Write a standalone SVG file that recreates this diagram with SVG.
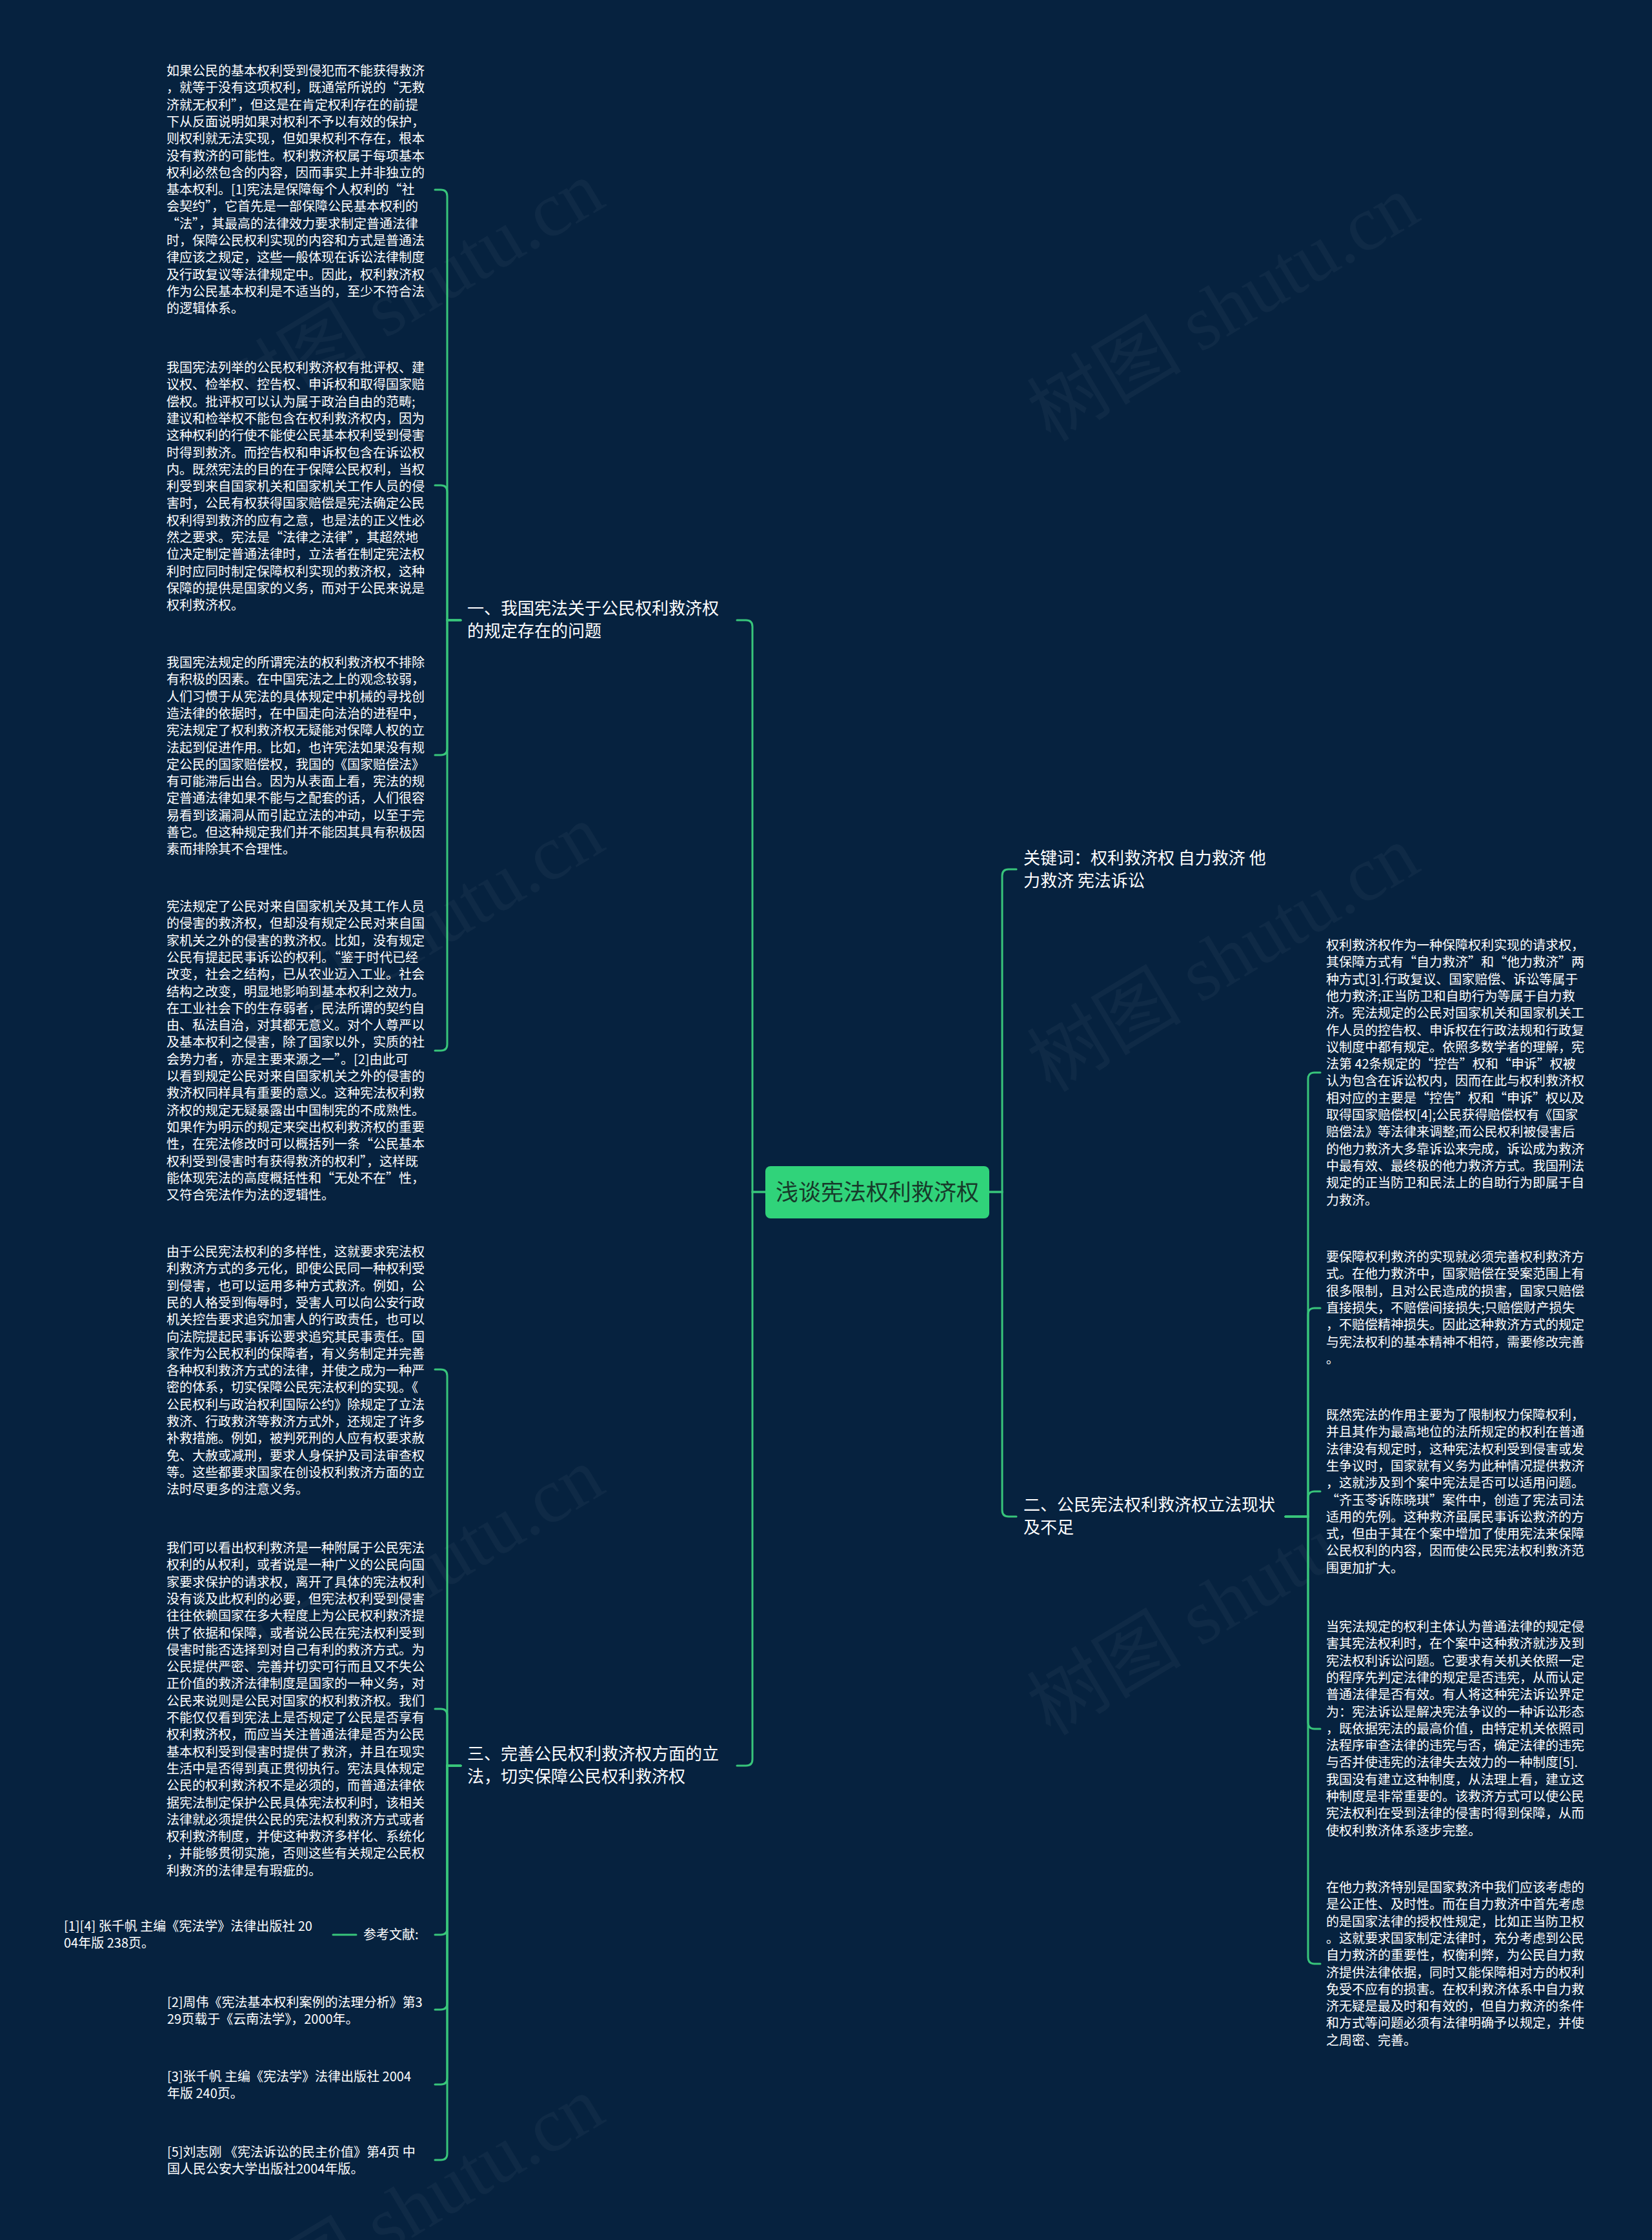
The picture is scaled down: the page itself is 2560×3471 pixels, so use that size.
<svg xmlns="http://www.w3.org/2000/svg" width="2560" height="3471" viewBox="0 0 2560 3471">
<style>
.bg{fill:#06223f}
.wm{font-family:"Liberation Serif","Noto Sans CJK SC",serif;font-size:120px;fill:#ffffff;fill-opacity:0.04}
.c{fill:none;stroke:#38c57b;stroke-width:3;stroke-linecap:round}
.t{font-family:"Noto Sans CJK SC","Noto Sans",sans-serif;font-size:20px;fill:#ffffff}
.lb{font-family:"Noto Sans CJK SC","Noto Sans",sans-serif;font-size:26px;fill:#ffffff}
.root{fill:#30d37a}
.rt{font-family:"Noto Sans CJK SC","Noto Sans",sans-serif;font-size:35px;fill:#173a2a}
</style>
<rect class="bg" x="0" y="0" width="2560" height="3471"/>
<g id="watermarks">
<text class="wm" transform="translate(365,664) rotate(-31)">树图 shutu.cn</text>
<text class="wm" transform="translate(1628,686) rotate(-31)">树图 shutu.cn</text>
<text class="wm" transform="translate(365,1661) rotate(-31)">树图 shutu.cn</text>
<text class="wm" transform="translate(1628,1694) rotate(-31)">树图 shutu.cn</text>
<text class="wm" transform="translate(365,2657) rotate(-31)">树图 shutu.cn</text>
<text class="wm" transform="translate(1628,2691) rotate(-31)">树图 shutu.cn</text>
<text class="wm" transform="translate(365,3632) rotate(-31)">树图 shutu.cn</text>
</g>
<g id="connectors">
<path class="c" d="M1186 1847 H1166 V971 Q1166 961 1156 961 H1142"/>
<path class="c" d="M1186 1847 H1166 V2726 Q1166 2736 1156 2736 H1142"/>
<path class="c" d="M1533 1847 H1553 V1357 Q1553 1347 1563 1347 H1575"/>
<path class="c" d="M1533 1847 H1553 V2340 Q1553 2350 1563 2350 H1575"/>
<path class="c" d="M714 961 H693 V304 Q693 294 683 294 H674"/>
<path class="c" d="M714 961 H693 V762 Q693 752 683 752 H674"/>
<path class="c" d="M714 961 H693 V1160 Q693 1170 683 1170 H674"/>
<path class="c" d="M714 961 H693 V1618 Q693 1628 683 1628 H674"/>
<path class="c" d="M714 2736 H693 V2132 Q693 2122 683 2122 H674"/>
<path class="c" d="M714 2736 H693 V2658 Q693 2648 683 2648 H674"/>
<path class="c" d="M714 2736 H693 V2988 Q693 2998 683 2998 H674"/>
<path class="c" d="M714 2736 H693 V3104 Q693 3114 683 3114 H674"/>
<path class="c" d="M714 2736 H693 V3220 Q693 3230 683 3230 H674"/>
<path class="c" d="M714 2736 H693 V3337 Q693 3347 683 3347 H674"/>
<path class="c" d="M552 2998 H516"/>
<path class="c" d="M1992 2350 H2027 V1672 Q2027 1662 2037 1662 H2046"/>
<path class="c" d="M1992 2350 H2027 V2037 Q2027 2027 2037 2027 H2046"/>
<path class="c" d="M1992 2350 H2027 V2321 Q2027 2311 2037 2311 H2046"/>
<path class="c" d="M1992 2350 H2027 V2669 Q2027 2679 2037 2679 H2046"/>
<path class="c" d="M1992 2350 H2027 V3033 Q2027 3043 2037 3043 H2046"/>
</g>
<g id="root">
<rect class="root" x="1186" y="1807" width="347" height="81" rx="8"/>
<text class="rt" x="1359.5" y="1860" text-anchor="middle">浅谈宪法权利救济权</text>
</g>
<g id="branch1">
<text class="lb" x="724" y="952"><tspan x="724">一、我国宪法关于公民权利救济权</tspan><tspan x="724" dy="35">的规定存在的问题</tspan></text>
</g>
<g id="branch3">
<text class="lb" x="724" y="2727"><tspan x="724">三、完善公民权利救济权方面的立</tspan><tspan x="724" dy="35">法，切实保障公民权利救济权</tspan></text>
</g>
<g id="keywords">
<text class="lb" x="1586" y="1339"><tspan x="1586">关键词：权利救济权 自力救济 他</tspan><tspan x="1586" dy="35">力救济 宪法诉讼</tspan></text>
</g>
<g id="branch2">
<text class="lb" x="1586" y="2341"><tspan x="1586">二、公民宪法权利救济权立法现状</tspan><tspan x="1586" dy="35">及不足</tspan></text>
</g>
<g id="note1">
<text class="t" x="258" y="117"><tspan x="258">如果公民的基本权利受到侵犯而不能获得救济</tspan><tspan x="258" dy="26.3">，就等于没有这项权利，既通常所说的“无救</tspan><tspan x="258" dy="26.3">济就无权利”，但这是在肯定权利存在的前提</tspan><tspan x="258" dy="26.3">下从反面说明如果对权利不予以有效的保护，</tspan><tspan x="258" dy="26.3">则权利就无法实现，但如果权利不存在，根本</tspan><tspan x="258" dy="26.3">没有救济的可能性。权利救济权属于每项基本</tspan><tspan x="258" dy="26.3">权利必然包含的内容，因而事实上并非独立的</tspan><tspan x="258" dy="26.3">基本权利。[1]宪法是保障每个人权利的“社</tspan><tspan x="258" dy="26.3">会契约”，它首先是一部保障公民基本权利的</tspan><tspan x="258" dy="26.3">“法”，其最高的法律效力要求制定普通法律</tspan><tspan x="258" dy="26.3">时，保障公民权利实现的内容和方式是普通法</tspan><tspan x="258" dy="26.3">律应该之规定，这些一般体现在诉讼法律制度</tspan><tspan x="258" dy="26.3">及行政复议等法律规定中。因此，权利救济权</tspan><tspan x="258" dy="26.3">作为公民基本权利是不适当的，至少不符合法</tspan><tspan x="258" dy="26.3">的逻辑体系。</tspan></text>
</g>
<g id="note2">
<text class="t" x="258" y="577"><tspan x="258">我国宪法列举的公民权利救济权有批评权、建</tspan><tspan x="258" dy="26.3">议权、检举权、控告权、申诉权和取得国家赔</tspan><tspan x="258" dy="26.3">偿权。批评权可以认为属于政治自由的范畴;</tspan><tspan x="258" dy="26.3">建议和检举权不能包含在权利救济权内，因为</tspan><tspan x="258" dy="26.3">这种权利的行使不能使公民基本权利受到侵害</tspan><tspan x="258" dy="26.3">时得到救济。而控告权和申诉权包含在诉讼权</tspan><tspan x="258" dy="26.3">内。既然宪法的目的在于保障公民权利，当权</tspan><tspan x="258" dy="26.3">利受到来自国家机关和国家机关工作人员的侵</tspan><tspan x="258" dy="26.3">害时，公民有权获得国家赔偿是宪法确定公民</tspan><tspan x="258" dy="26.3">权利得到救济的应有之意，也是法的正义性必</tspan><tspan x="258" dy="26.3">然之要求。宪法是“法律之法律”，其超然地</tspan><tspan x="258" dy="26.3">位决定制定普通法律时，立法者在制定宪法权</tspan><tspan x="258" dy="26.3">利时应同时制定保障权利实现的救济权，这种</tspan><tspan x="258" dy="26.3">保障的提供是国家的义务，而对于公民来说是</tspan><tspan x="258" dy="26.3">权利救济权。</tspan></text>
</g>
<g id="note3">
<text class="t" x="258" y="1034"><tspan x="258">我国宪法规定的所谓宪法的权利救济权不排除</tspan><tspan x="258" dy="26.3">有积极的因素。在中国宪法之上的观念较弱，</tspan><tspan x="258" dy="26.3">人们习惯于从宪法的具体规定中机械的寻找创</tspan><tspan x="258" dy="26.3">造法律的依据时，在中国走向法治的进程中，</tspan><tspan x="258" dy="26.3">宪法规定了权利救济权无疑能对保障人权的立</tspan><tspan x="258" dy="26.3">法起到促进作用。比如，也许宪法如果没有规</tspan><tspan x="258" dy="26.3">定公民的国家赔偿权，我国的《国家赔偿法》</tspan><tspan x="258" dy="26.3">有可能滞后出台。因为从表面上看，宪法的规</tspan><tspan x="258" dy="26.3">定普通法律如果不能与之配套的话，人们很容</tspan><tspan x="258" dy="26.3">易看到该漏洞从而引起立法的冲动，以至于完</tspan><tspan x="258" dy="26.3">善它。但这种规定我们并不能因其具有积极因</tspan><tspan x="258" dy="26.3">素而排除其不合理性。</tspan></text>
</g>
<g id="note4">
<text class="t" x="258" y="1412"><tspan x="258">宪法规定了公民对来自国家机关及其工作人员</tspan><tspan x="258" dy="26.3">的侵害的救济权，但却没有规定公民对来自国</tspan><tspan x="258" dy="26.3">家机关之外的侵害的救济权。比如，没有规定</tspan><tspan x="258" dy="26.3">公民有提起民事诉讼的权利。“鉴于时代已经</tspan><tspan x="258" dy="26.3">改变，社会之结构，已从农业迈入工业。社会</tspan><tspan x="258" dy="26.3">结构之改变，明显地影响到基本权利之效力。</tspan><tspan x="258" dy="26.3">在工业社会下的生存弱者，民法所谓的契约自</tspan><tspan x="258" dy="26.3">由、私法自治，对其都无意义。对个人尊严以</tspan><tspan x="258" dy="26.3">及基本权利之侵害，除了国家以外，实质的社</tspan><tspan x="258" dy="26.3">会势力者，亦是主要来源之一”。[2]由此可</tspan><tspan x="258" dy="26.3">以看到规定公民对来自国家机关之外的侵害的</tspan><tspan x="258" dy="26.3">救济权同样具有重要的意义。这种宪法权利救</tspan><tspan x="258" dy="26.3">济权的规定无疑暴露出中国制宪的不成熟性。</tspan><tspan x="258" dy="26.3">如果作为明示的规定来突出权利救济权的重要</tspan><tspan x="258" dy="26.3">性，在宪法修改时可以概括列一条“公民基本</tspan><tspan x="258" dy="26.3">权利受到侵害时有获得救济的权利”，这样既</tspan><tspan x="258" dy="26.3">能体现宪法的高度概括性和“无处不在”性，</tspan><tspan x="258" dy="26.3">又符合宪法作为法的逻辑性。</tspan></text>
</g>
<g id="note5">
<text class="t" x="258" y="1947"><tspan x="258">由于公民宪法权利的多样性，这就要求宪法权</tspan><tspan x="258" dy="26.3">利救济方式的多元化，即使公民同一种权利受</tspan><tspan x="258" dy="26.3">到侵害，也可以运用多种方式救济。例如，公</tspan><tspan x="258" dy="26.3">民的人格受到侮辱时，受害人可以向公安行政</tspan><tspan x="258" dy="26.3">机关控告要求追究加害人的行政责任，也可以</tspan><tspan x="258" dy="26.3">向法院提起民事诉讼要求追究其民事责任。国</tspan><tspan x="258" dy="26.3">家作为公民权利的保障者，有义务制定并完善</tspan><tspan x="258" dy="26.3">各种权利救济方式的法律，并使之成为一种严</tspan><tspan x="258" dy="26.3">密的体系，切实保障公民宪法权利的实现。《</tspan><tspan x="258" dy="26.3">公民权利与政治权利国际公约》除规定了立法</tspan><tspan x="258" dy="26.3">救济、行政救济等救济方式外，还规定了许多</tspan><tspan x="258" dy="26.3">补救措施。例如，被判死刑的人应有权要求赦</tspan><tspan x="258" dy="26.3">免、大赦或减刑，要求人身保护及司法审查权</tspan><tspan x="258" dy="26.3">等。这些都要求国家在创设权利救济方面的立</tspan><tspan x="258" dy="26.3">法时尽更多的注意义务。</tspan></text>
</g>
<g id="note6">
<text class="t" x="258" y="2406"><tspan x="258">我们可以看出权利救济是一种附属于公民宪法</tspan><tspan x="258" dy="26.3">权利的从权利，或者说是一种广义的公民向国</tspan><tspan x="258" dy="26.3">家要求保护的请求权，离开了具体的宪法权利</tspan><tspan x="258" dy="26.3">没有谈及此权利的必要，但宪法权利受到侵害</tspan><tspan x="258" dy="26.3">往往依赖国家在多大程度上为公民权利救济提</tspan><tspan x="258" dy="26.3">供了依据和保障，或者说公民在宪法权利受到</tspan><tspan x="258" dy="26.3">侵害时能否选择到对自己有利的救济方式。为</tspan><tspan x="258" dy="26.3">公民提供严密、完善并切实可行而且又不失公</tspan><tspan x="258" dy="26.3">正价值的救济法律制度是国家的一种义务，对</tspan><tspan x="258" dy="26.3">公民来说则是公民对国家的权利救济权。我们</tspan><tspan x="258" dy="26.3">不能仅仅看到宪法上是否规定了公民是否享有</tspan><tspan x="258" dy="26.3">权利救济权，而应当关注普通法律是否为公民</tspan><tspan x="258" dy="26.3">基本权利受到侵害时提供了救济，并且在现实</tspan><tspan x="258" dy="26.3">生活中是否得到真正贯彻执行。宪法具体规定</tspan><tspan x="258" dy="26.3">公民的权利救济权不是必须的，而普通法律依</tspan><tspan x="258" dy="26.3">据宪法制定保护公民具体宪法权利时，该相关</tspan><tspan x="258" dy="26.3">法律就必须提供公民的宪法权利救济方式或者</tspan><tspan x="258" dy="26.3">权利救济制度，并使这种救济多样化、系统化</tspan><tspan x="258" dy="26.3">，并能够贯彻实施，否则这些有关规定公民权</tspan><tspan x="258" dy="26.3">利救济的法律是有瑕疵的。</tspan></text>
</g>
<g id="refs-title">
<text class="t" x="563" y="3005">参考文献:</text>
</g>
<g id="ref1">
<text class="t" x="99" y="2992"><tspan x="99">[1][4] 张千帆 主编《宪法学》法律出版社 20</tspan><tspan x="99" dy="26.3">04年版 238页。</tspan></text>
</g>
<g id="ref2">
<text class="t" x="259" y="3110"><tspan x="259">[2]周伟《宪法基本权利案例的法理分析》第3</tspan><tspan x="259" dy="26.3">29页载于《云南法学》，2000年。</tspan></text>
</g>
<g id="ref3">
<text class="t" x="259" y="3225"><tspan x="259">[3]张千帆 主编《宪法学》法律出版社 2004</tspan><tspan x="259" dy="26.3">年版 240页。</tspan></text>
</g>
<g id="ref5">
<text class="t" x="259" y="3342"><tspan x="259">[5]刘志刚 《宪法诉讼的民主价值》第4页 中</tspan><tspan x="259" dy="26.3">国人民公安大学出版社2004年版。</tspan></text>
</g>
<g id="note7">
<text class="t" x="2055" y="1472"><tspan x="2055">权利救济权作为一种保障权利实现的请求权，</tspan><tspan x="2055" dy="26.3">其保障方式有“自力救济”和“他力救济”两</tspan><tspan x="2055" dy="26.3">种方式[3].行政复议、国家赔偿、诉讼等属于</tspan><tspan x="2055" dy="26.3">他力救济;正当防卫和自助行为等属于自力救</tspan><tspan x="2055" dy="26.3">济。宪法规定的公民对国家机关和国家机关工</tspan><tspan x="2055" dy="26.3">作人员的控告权、申诉权在行政法规和行政复</tspan><tspan x="2055" dy="26.3">议制度中都有规定。依照多数学者的理解，宪</tspan><tspan x="2055" dy="26.3">法第 42条规定的“控告”权和“申诉”权被</tspan><tspan x="2055" dy="26.3">认为包含在诉讼权内，因而在此与权利救济权</tspan><tspan x="2055" dy="26.3">相对应的主要是“控告”权和“申诉”权以及</tspan><tspan x="2055" dy="26.3">取得国家赔偿权[4];公民获得赔偿权有《国家</tspan><tspan x="2055" dy="26.3">赔偿法》等法律来调整;而公民权利被侵害后</tspan><tspan x="2055" dy="26.3">的他力救济大多靠诉讼来完成，诉讼成为救济</tspan><tspan x="2055" dy="26.3">中最有效、最终极的他力救济方式。我国刑法</tspan><tspan x="2055" dy="26.3">规定的正当防卫和民法上的自助行为即属于自</tspan><tspan x="2055" dy="26.3">力救济。</tspan></text>
</g>
<g id="note8">
<text class="t" x="2055" y="1955"><tspan x="2055">要保障权利救济的实现就必须完善权利救济方</tspan><tspan x="2055" dy="26.3">式。在他力救济中，国家赔偿在受案范围上有</tspan><tspan x="2055" dy="26.3">很多限制，且对公民造成的损害，国家只赔偿</tspan><tspan x="2055" dy="26.3">直接损失，不赔偿间接损失;只赔偿财产损失</tspan><tspan x="2055" dy="26.3">，不赔偿精神损失。因此这种救济方式的规定</tspan><tspan x="2055" dy="26.3">与宪法权利的基本精神不相符，需要修改完善</tspan><tspan x="2055" dy="26.3">。</tspan></text>
</g>
<g id="note9">
<text class="t" x="2055" y="2200"><tspan x="2055">既然宪法的作用主要为了限制权力保障权利，</tspan><tspan x="2055" dy="26.3">并且其作为最高地位的法所规定的权利在普通</tspan><tspan x="2055" dy="26.3">法律没有规定时，这种宪法权利受到侵害或发</tspan><tspan x="2055" dy="26.3">生争议时，国家就有义务为此种情况提供救济</tspan><tspan x="2055" dy="26.3">，这就涉及到个案中宪法是否可以适用问题。</tspan><tspan x="2055" dy="26.3">“齐玉苓诉陈晓琪”案件中，创造了宪法司法</tspan><tspan x="2055" dy="26.3">适用的先例。这种救济虽属民事诉讼救济的方</tspan><tspan x="2055" dy="26.3">式，但由于其在个案中增加了使用宪法来保障</tspan><tspan x="2055" dy="26.3">公民权利的内容，因而使公民宪法权利救济范</tspan><tspan x="2055" dy="26.3">围更加扩大。</tspan></text>
</g>
<g id="note10">
<text class="t" x="2055" y="2528"><tspan x="2055">当宪法规定的权利主体认为普通法律的规定侵</tspan><tspan x="2055" dy="26.3">害其宪法权利时，在个案中这种救济就涉及到</tspan><tspan x="2055" dy="26.3">宪法权利诉讼问题。它要求有关机关依照一定</tspan><tspan x="2055" dy="26.3">的程序先判定法律的规定是否违宪，从而认定</tspan><tspan x="2055" dy="26.3">普通法律是否有效。有人将这种宪法诉讼界定</tspan><tspan x="2055" dy="26.3">为：宪法诉讼是解决宪法争议的一种诉讼形态</tspan><tspan x="2055" dy="26.3">，既依据宪法的最高价值，由特定机关依照司</tspan><tspan x="2055" dy="26.3">法程序审查法律的违宪与否，确定法律的违宪</tspan><tspan x="2055" dy="26.3">与否并使违宪的法律失去效力的一种制度[5].</tspan><tspan x="2055" dy="26.3">我国没有建立这种制度，从法理上看，建立这</tspan><tspan x="2055" dy="26.3">种制度是非常重要的。该救济方式可以使公民</tspan><tspan x="2055" dy="26.3">宪法权利在受到法律的侵害时得到保障，从而</tspan><tspan x="2055" dy="26.3">使权利救济体系逐步完整。</tspan></text>
</g>
<g id="note11">
<text class="t" x="2055" y="2932"><tspan x="2055">在他力救济特别是国家救济中我们应该考虑的</tspan><tspan x="2055" dy="26.3">是公正性、及时性。而在自力救济中首先考虑</tspan><tspan x="2055" dy="26.3">的是国家法律的授权性规定，比如正当防卫权</tspan><tspan x="2055" dy="26.3">。这就要求国家制定法律时，充分考虑到公民</tspan><tspan x="2055" dy="26.3">自力救济的重要性，权衡利弊，为公民自力救</tspan><tspan x="2055" dy="26.3">济提供法律依据，同时又能保障相对方的权利</tspan><tspan x="2055" dy="26.3">免受不应有的损害。在权利救济体系中自力救</tspan><tspan x="2055" dy="26.3">济无疑是最及时和有效的，但自力救济的条件</tspan><tspan x="2055" dy="26.3">和方式等问题必须有法律明确予以规定，并使</tspan><tspan x="2055" dy="26.3">之周密、完善。</tspan></text>
</g>
</svg>
